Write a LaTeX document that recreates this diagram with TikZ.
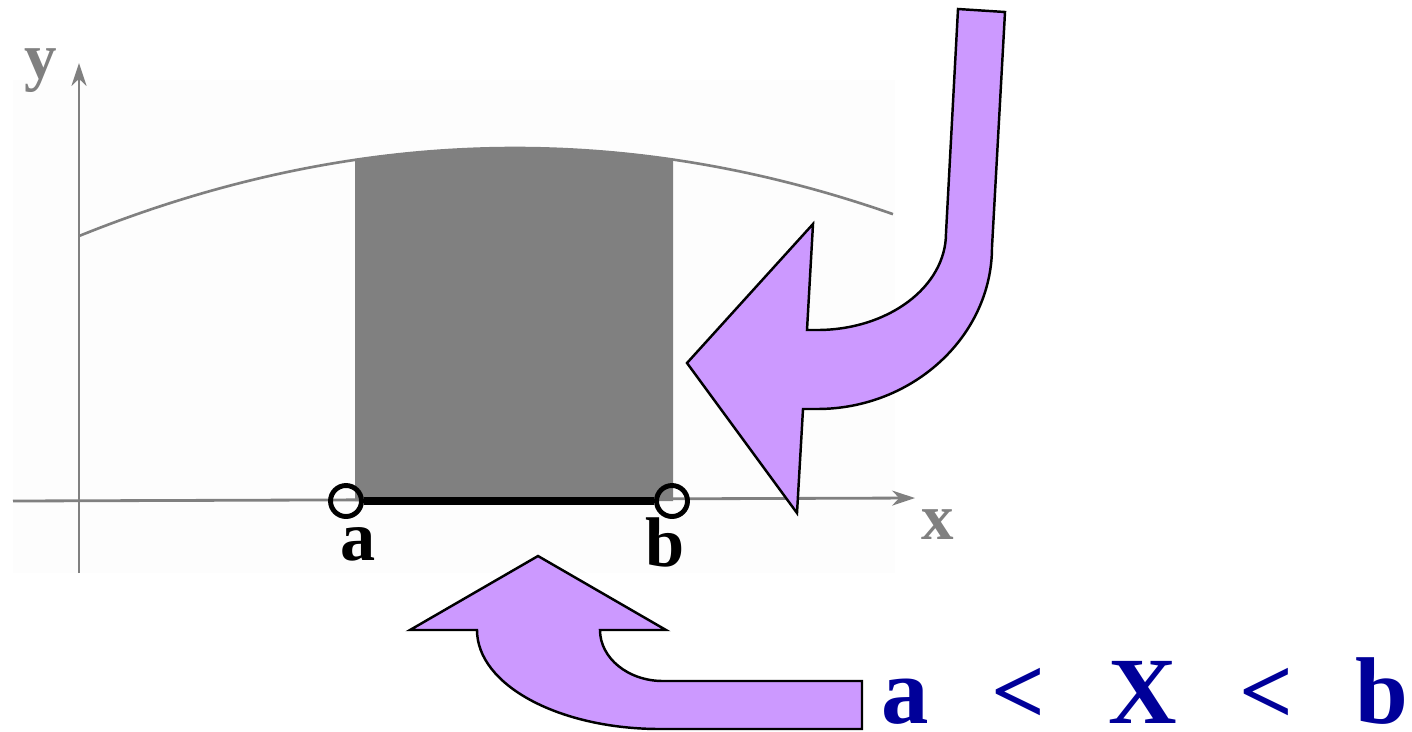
\documentclass[tikz,border=0pt]{standalone}
\usepackage{fontspec}
\setmainfont{Liberation Serif}
\usepackage{tikz}
\usetikzlibrary{arrows.meta}
\definecolor{lilac}{HTML}{CC99FF}
\definecolor{axisgray}{HTML}{808080}
\definecolor{navy}{HTML}{000099}
\definecolor{panelbg}{HTML}{FDFDFD}
\tikzset{
  axisline/.style={draw=axisgray, line width=1.6pt,
                   -{Stealth[length=13pt, width=8.5pt, inset=4pt]}},
  densline/.style={draw=axisgray, line width=1.5pt},
  area/.style={fill=axisgray},
  seg/.style={draw=black, line width=4.5pt},
  endpt/.style={circle, draw=black, line width=2.8pt, minimum size=0.62cm,
                inner sep=0pt},
  bigarrow/.style={fill=lilac, draw=black, line width=1.4pt, line join=miter},
  axislabel/.style={text=axisgray, font=\fontsize{37}{40}\selectfont\bfseries,
                    inner sep=0pt, anchor=base},
  ptlabel/.style={text=black, font=\fontsize{40}{44}\selectfont\bfseries,
                  inner sep=0pt, anchor=base},
  ineq/.style={text=navy, font=\fontsize{54}{60}\selectfont\bfseries,
               inner sep=0pt, anchor=base},
}
\begin{document}
\begin{tikzpicture}[x=0.02cm, y=-0.02cm]
    \useasboundingbox (0,0) rectangle (1412,731);
    \fill[panelbg] (13,80) rectangle (895,573);
    % shaded probability area
    \fill[area] (355,501) -- plot[domain=355:673, samples=40]
          (\x, {148 + 4.63*((\x-515)/100)^2}) -- (673,501) -- cycle;
    \draw[densline] plot[domain=79:893, samples=80]
          (\x, {148 + 4.63*((\x-515)/100)^2});
    % axes
    \coordinate (xstart) at (13,501);
    \coordinate (xend) at (915,498);
    \coordinate (ystart) at (79,573);
    \coordinate (yend) at (79,63);
    \draw[axisline] (xstart) -- (xend);
    \draw[axisline] (ystart) -- (yend);
    \node[axislabel] (ylab) at (41,78) {y};
    \node[axislabel] (xlab) at (938,539) {x};
    % interval
    \node[endpt] (pa) at (346,501) {};
    \node[endpt] (pb) at (672,501) {};
    \draw[seg] (pa) -- (pb);
    \node[ptlabel] (alab) at (358,560) {a};
    \node[ptlabel] (blab) at (665,566) {b};
    % arrows
    \draw[bigarrow] (958,9) -- (946,233)
          .. controls (946,287) and (888,330) .. (817,330) -- (807,330)
          -- (813,224) -- (687,363) -- (797,513) -- (803,409) -- (817,409)
          .. controls (913,409) and (992,336) .. (992,247) -- (1005,12) -- cycle;
    \draw[bigarrow] (862,681) -- (663,681)
          .. controls (628,681) and (600,658) .. (600,630) -- (666,630)
          -- (538,556) -- (410,630) -- (477,630)
          .. controls (477,685) and (559,729) .. (660,729) -- (862,729) -- cycle;
    \node[ineq] (event) at (1145,723)
          {a\hspace{0.66em}<\hspace{0.66em}X\hspace{0.66em}<\hspace{0.66em}b};
\end{tikzpicture}
\end{document}
